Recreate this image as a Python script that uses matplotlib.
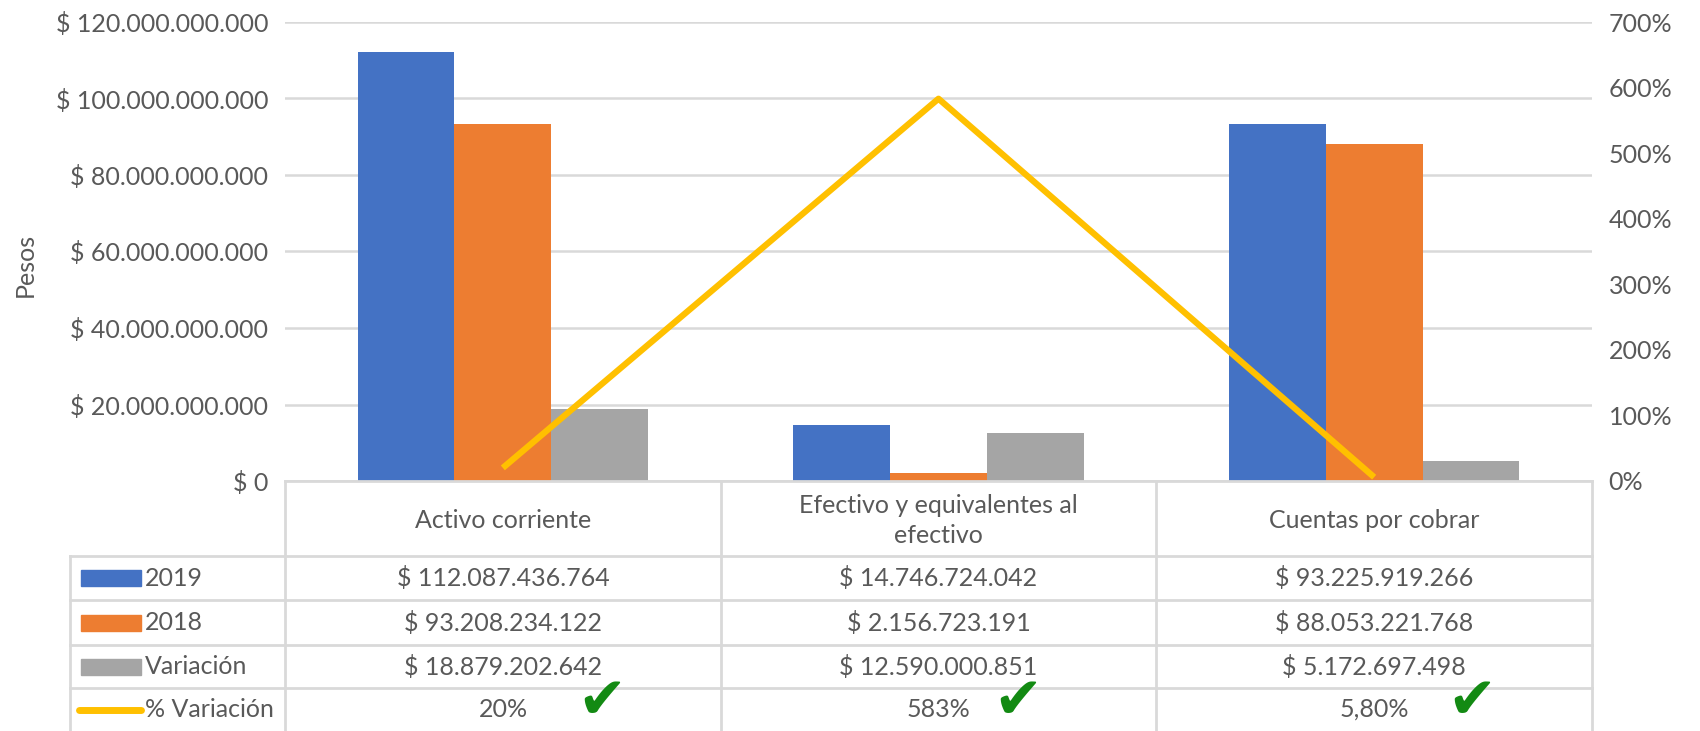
import matplotlib
matplotlib.use("agg")
import matplotlib.pyplot as plt
from matplotlib.patches import Rectangle
from matplotlib.lines import Line2D
import numpy as np

# datos
categorias = ["Activo corriente", "Efectivo y equivalentes al\nefectivo", "Cuentas por cobrar"]
valores_2019 = [112087436764, 14746724042, 93225919266]
valores_2018 = [93208234122, 2156723191, 88053221768]
variacion = [18879202642, 12590000851, 5172697498]
pct_variacion = [0.20, 5.83, 0.058]
pct_labels = ["20%", "583%", "5,80%"]
series = ["2019", "2018", "Variación", "% Variación"]

AZUL = "#4472C4"
NARANJA = "#ED7D31"
GRIS = "#A5A5A5"
AMARILLO = "#FFC000"
TEXTO = "#595959"
LINEA = "#D9D9D9"

plt.rcParams['font.family'] = ['Lato', 'DejaVu Sans']

W, H = 1700, 731
fig = plt.figure(figsize=(W / 100, H / 100), dpi=100)


def fx(px):
    return px / W


def fy(py):
    return 1 - py / H


def pesos(v):
    return "$ " + f"{int(v):,}".replace(",", ".")


# area del grafico
x_izq, x_der, y_top, y_bot = 285, 1592, 22, 481
ax = fig.add_axes([fx(x_izq), fy(y_bot), fx(x_der - x_izq), fy(y_top) - fy(y_bot)])
x = np.arange(len(categorias))
ancho = 2 / 9
ax.bar(x - ancho, valores_2019, ancho, color=AZUL, zorder=2)
ax.bar(x, valores_2018, ancho, color=NARANJA, zorder=2)
ax.bar(x + ancho, variacion, ancho, color=GRIS, zorder=2)
ax.set_xlim(-0.5, 2.5)
ax.set_ylim(0, 120e9)
ax.set_yticks(np.arange(0, 121e9, 20e9))
ax.set_yticklabels([pesos(t) if t > 0 else "$ 0" for t in np.arange(0, 121e9, 20e9)])
ax.set_xticks([])
ax.grid(axis="y", color=LINEA, linewidth=1.8, zorder=0)
for s in ax.spines.values():
    s.set_visible(False)
ax.tick_params(axis="y", length=0, pad=12, labelsize=18, labelcolor=TEXTO)
ax.set_ylabel("Pesos", fontsize=18, color=TEXTO)
ax.yaxis.set_label_coords(-0.19, 0.47)

ax2 = ax.twinx()
ax2.plot(x, pct_variacion, color=AMARILLO, linewidth=4.5, solid_capstyle="butt", zorder=3)
ax2.set_ylim(0, 7)
ax2.set_yticks(np.arange(0, 8))
ax2.set_yticklabels([f"{int(t * 100)}%" for t in range(8)])
for s in ax2.spines.values():
    s.set_visible(False)
ax2.tick_params(axis="y", length=0, pad=12, labelsize=18, labelcolor=TEXTO)

# tabla de datos
filas = [481, 556, 600, 645, 688, 731]
cols = [285, 721, 1156, 1592]
x_leyenda = 70
lw = 2
fig.add_artist(Line2D([fx(cols[0]), fx(cols[-1])], [fy(filas[0])] * 2, color=LINEA, lw=lw))
for py in filas[1:5]:
    fig.add_artist(Line2D([fx(x_leyenda), fx(cols[-1])], [fy(py)] * 2, color=LINEA, lw=lw))
for px in cols:
    fig.add_artist(Line2D([fx(px)] * 2, [fy(filas[0]), fy(filas[-1])], color=LINEA, lw=lw))
fig.add_artist(Line2D([fx(x_leyenda)] * 2, [fy(filas[1]), fy(filas[-1])], color=LINEA, lw=lw))

fs = 18
for i, cat in enumerate(categorias):
    cx = (cols[i] + cols[i + 1]) / 2
    fig.text(fx(cx), fy((filas[0] + filas[1]) / 2 + 2), cat, ha="center", va="center",
             fontsize=fs, color=TEXTO, linespacing=1.35)

datos = [valores_2019, valores_2018, variacion]
colores = [AZUL, NARANJA, GRIS]
for r in range(4):
    cy = (filas[r + 1] + filas[r + 2]) / 2
    if r < 3:
        fig.add_artist(Rectangle((fx(81), fy(cy + 8)), fx(60), fy(cy - 8) - fy(cy + 8),
                                 color=colores[r]))
    else:
        fig.add_artist(Line2D([fx(79), fx(141)], [fy(cy)] * 2, color=AMARILLO, lw=5,
                              solid_capstyle="round"))
    fig.text(fx(145), fy(cy), series[r], ha="left", va="center", fontsize=fs, color=TEXTO)
    for i in range(3):
        cx = (cols[i] + cols[i + 1]) / 2
        txt = pesos(datos[r][i]) if r < 3 else pct_labels[i]
        fig.text(fx(cx), fy(cy), txt, ha="center", va="center", fontsize=fs, color=TEXTO)

# marcas de verificacion
for px in [602, 1018, 1472]:
    fig.text(fx(px), fy(730), "\u2714", ha="center", va="bottom", fontsize=42,
             color="#138A13", family=["DejaVu Sans"])

fig.savefig("out.png", dpi=100)
